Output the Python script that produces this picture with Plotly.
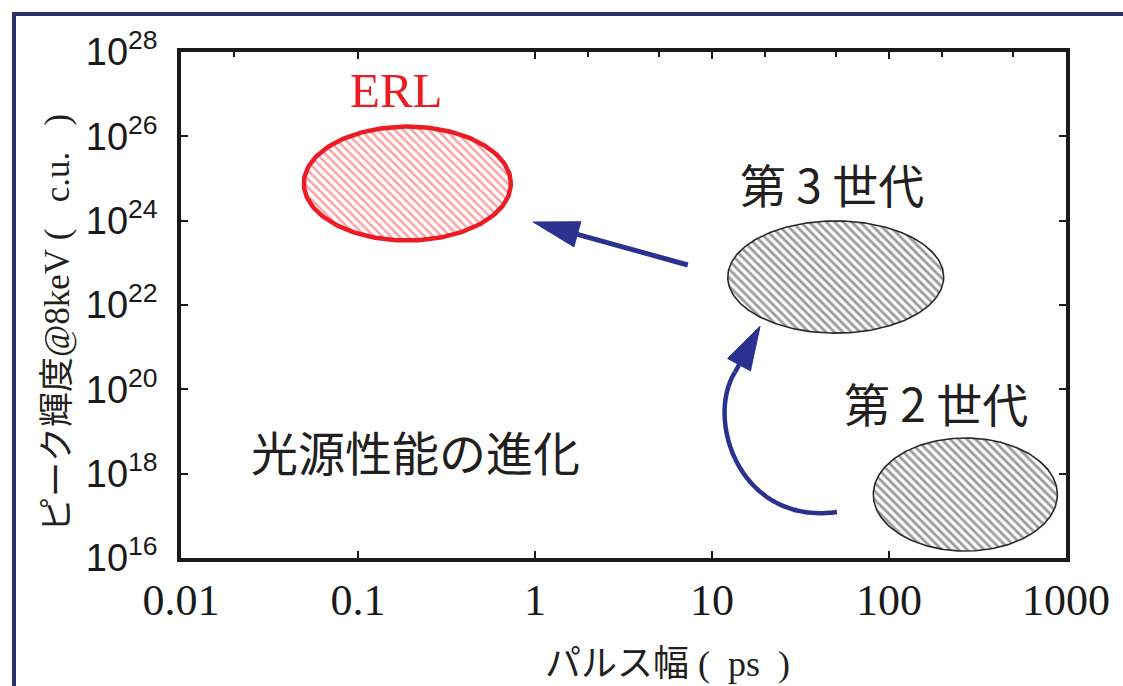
import numpy as np
import plotly.graph_objects as go

# ---------------- data ----------------
SOURCE_NAMES = ["ERL", "第 3 世代", "第 2 世代"]
PULSE_CENTER_PS = [0.19, 50.0, 270.0]          # ellipse centre, pulse width (ps)
PULSE_HALF_DECADES = [0.585, 0.61, 0.52]        # ellipse half width (decades)
BRIGHT_CENTER = [7.6e24, 4.6e22, 3.2e17]        # ellipse centre, peak brightness
BRIGHT_HALF_DECADES = [1.35, 1.33, 1.34]        # ellipse half height (decades)

LABEL_X = [0.166, 47.6, 184.0]                  # label positions (ps)
LABEL_Y = [1.2e27, 7.8e24, 5.0e19]              # label positions (brightness)
TITLE_TEXT = "光源性能の進化"
TITLE_POS = [0.21, 3.6e18]

# straight arrow 3rd gen -> ERL : tail, tip
ARROW1_X = [7.3, 0.975]
ARROW1_Y = [8.9e22, 9.3e23]
# curved arrow 2nd gen -> 3rd gen : bezier control points + tip
ARROW2_X = [50.8, 14.4, 9.12, 13.5]
ARROW2_Y = [1.23e17, 6.0e16, 1.86e19, 2.57e20]
ARROW2_TIP = [18.7, 3.16e21]

X_TICKS = [0.01, 0.1, 1, 10, 100, 1000]
X_TICK_TEXT = ["0.01", "0.1", "1", "10", "100", "1000"]
TOP_MINOR_TICKS = [0.02, 2, 5, 20, 50, 200, 500]
Y_TICKS = [1e16, 1e18, 1e20, 1e22, 1e24, 1e26, 1e28]
Y_TICK_TEXT = ["10<sup>16</sup>", "10<sup>18</sup>", "10<sup>20</sup>", "10<sup>22</sup>",
               "10<sup>24</sup>", "10<sup>26</sup>", "10<sup>28</sup>"]

# ---------------- layout constants ----------------
W, H = 1123, 686
ML, MR, MT, MB = 181, 57, 52, 128
XR = [-2, 3]
YR = [16, 28]
PX_X = (W - ML - MR) / (XR[1] - XR[0])
PX_Y = (H - MT - MB) / (YR[1] - YR[0])

NAVY = "#2b3190"
RED = "#ec1c24"
SERIF = "Liberation Serif"
SANS = "Liberation Sans"
CJK = "Noto Sans CJK JP"
NB = "\u00a0"


def to_px(xl, yl):
    return ML + (xl - XR[0]) * PX_X, MT + (YR[1] - yl) * PX_Y


def from_px(px, py):
    return XR[0] + (px - ML) / PX_X, YR[1] - (py - MT) / PX_Y


def head(tip_l, from_l, length=44, half=13):
    tx, ty = to_px(*tip_l)
    fx, fy = to_px(*from_l)
    d = np.array([tx - fx, ty - fy])
    u = d / np.linalg.norm(d)
    n = np.array([-u[1], u[0]])
    base = np.array([tx, ty]) - length * u
    pts = [np.array([tx, ty]), base + half * n, base - half * n, np.array([tx, ty])]
    ls = [from_px(*p) for p in pts]
    b = from_px(*base)
    return [10 ** p[0] for p in ls], [10 ** p[1] for p in ls], b


fig = go.Figure()

styles = [
    dict(line=RED, lw=4.5, fg="#f04a50", bg="#ffffff", size=6, sol=0.42),
    dict(line="#2a2a2a", lw=1.6, fg="#3a3a3a", bg="#fafafa", size=6, sol=0.45),
    dict(line="#2a2a2a", lw=1.6, fg="#3a3a3a", bg="#fafafa", size=6, sol=0.45),
]
t = np.linspace(0, 2 * np.pi, 241)
for i, name in enumerate(SOURCE_NAMES):
    cx = np.log10(PULSE_CENTER_PS[i])
    cy = np.log10(BRIGHT_CENTER[i])
    xs = 10 ** (cx + PULSE_HALF_DECADES[i] * np.cos(t))
    ys = 10 ** (cy + BRIGHT_HALF_DECADES[i] * np.sin(t))
    s = styles[i]
    fig.add_trace(go.Scatter(
        x=xs, y=ys, mode="lines", fill="toself", name=name,
        line=dict(color=s["line"], width=s["lw"]),
        fillcolor=s["bg"],
        fillpattern=dict(shape="\\", fgcolor=s["fg"], bgcolor=s["bg"],
                         size=s["size"], solidity=s["sol"]),
        hoverinfo="skip", showlegend=False))

# straight arrow
a1_tip = (np.log10(ARROW1_X[1]), np.log10(ARROW1_Y[1]))
a1_tail = (np.log10(ARROW1_X[0]), np.log10(ARROW1_Y[0]))
hx, hy, b1 = head(a1_tip, a1_tail, length=46, half=13)
fig.add_trace(go.Scatter(x=[ARROW1_X[0], 10 ** b1[0]], y=[ARROW1_Y[0], 10 ** b1[1]],
                         mode="lines", line=dict(color=NAVY, width=5),
                         hoverinfo="skip", showlegend=False))
fig.add_trace(go.Scatter(x=hx, y=hy, mode="lines", fill="toself", fillcolor=NAVY,
                         line=dict(color=NAVY, width=1), hoverinfo="skip", showlegend=False))

# curved arrow (cubic bezier in log space)
P = np.array([[np.log10(a), np.log10(b)] for a, b in zip(ARROW2_X, ARROW2_Y)])
tt = np.linspace(0, 1, 80)[:, None]
curve = ((1 - tt) ** 3) * P[0] + 3 * ((1 - tt) ** 2) * tt * P[1] + 3 * (1 - tt) * tt ** 2 * P[2] + tt ** 3 * P[3]
fig.add_trace(go.Scatter(x=10 ** curve[:, 0], y=10 ** curve[:, 1], mode="lines",
                         line=dict(color=NAVY, width=4.5, shape="spline"),
                         hoverinfo="skip", showlegend=False))
a2_tip = (np.log10(ARROW2_TIP[0]), np.log10(ARROW2_TIP[1]))
hx, hy, b2 = head(a2_tip, tuple(P[3]), length=44, half=13)
fig.add_trace(go.Scatter(x=[10 ** P[3][0], 10 ** b2[0]], y=[10 ** P[3][1], 10 ** b2[1]],
                         mode="lines", line=dict(color=NAVY, width=4.5),
                         hoverinfo="skip", showlegend=False))
fig.add_trace(go.Scatter(x=hx, y=hy, mode="lines", fill="toself", fillcolor=NAVY,
                         line=dict(color=NAVY, width=1), hoverinfo="skip", showlegend=False))

# invisible trace for the top minor-tick axis
fig.add_trace(go.Scatter(x=[1], y=[1e20], xaxis="x2", mode="markers",
                         marker=dict(opacity=0), hoverinfo="skip", showlegend=False))

# labels
label_fonts = [dict(family=SERIF, size=49, color=RED),
               dict(family=CJK, size=46, color="#231f20"),
               dict(family=CJK, size=46, color="#231f20")]
for i, name in enumerate(SOURCE_NAMES):
    fig.add_annotation(x=np.log10(LABEL_X[i]), y=np.log10(LABEL_Y[i]), xref="x", yref="y",
                       xanchor="center", yanchor="middle",
                       text=name, showarrow=False, font=label_fonts[i])
fig.add_annotation(x=np.log10(TITLE_POS[0]), y=np.log10(TITLE_POS[1]), xref="x", yref="y",
                   xanchor="center", yanchor="middle",
                   text=TITLE_TEXT, showarrow=False,
                   font=dict(family=CJK, size=47, color="#231f20"))

# axis titles
fig.add_annotation(xref="paper", yref="paper", x=(53 - ML) / (W - ML - MR),
                   y=(H - MB - 323) / (H - MT - MB), textangle=-90, showarrow=False,
                   xanchor="center", yanchor="middle",
                   text=(f'<span style="font-family:{CJK}">ピーク輝度</span>'
                         f'<span style="font-family:{SERIF}">@8keV{NB}({NB*3}c.u.{NB*3})</span>'),
                   font=dict(family=CJK, size=35, color="#231f20"))
fig.add_annotation(xref="paper", yref="paper", x=(667 - ML) / (W - ML - MR),
                   y=-(660 - (H - MB)) / (H - MT - MB), showarrow=False,
                   xanchor="center", yanchor="middle",
                   text=(f'<span style="font-family:{CJK}">パルス幅</span>'
                         f'<span style="font-family:{SERIF}">{NB}({NB*2}ps{NB*2})</span>'),
                   font=dict(family=CJK, size=36, color="#231f20"))

# navy frame and small red mark on the right axis
fig.add_shape(type="rect", xref="paper", yref="paper",
              x0=(14 - ML) / (W - ML - MR), x1=(W + 40 - ML) / (W - ML - MR),
              y0=-(H + 40 - (H - MB)) / (H - MT - MB), y1=1 + (MT - 14) / (H - MT - MB),
              line=dict(color="#2e3268", width=4), layer="below")
fig.add_shape(type="line", xref="paper", yref="y", x0=1.0, x1=1.008, y0=20, y1=20,
              line=dict(color=RED, width=1.5))

fig.update_layout(
    width=W, height=H,
    margin=dict(l=ML, r=MR, t=MT, b=MB, autoexpand=False),
    paper_bgcolor="white", plot_bgcolor="white",
    showlegend=False,
    xaxis=dict(type="log", range=XR, tickvals=X_TICKS, ticktext=X_TICK_TEXT,
               ticks="inside", ticklen=7, tickwidth=2, tickcolor="#1a1a1a",
               showline=True, linecolor="#1a1a1a", linewidth=3.5, mirror="ticks",
               showgrid=False, zeroline=False, ticklabelstandoff=0,
               tickfont=dict(family=SERIF, size=44, color="#1a1a1a")),
    xaxis2=dict(type="log", range=XR, overlaying="x", side="top", tickvals=TOP_MINOR_TICKS,
                ticktext=[""] * len(TOP_MINOR_TICKS),
                ticks="inside", ticklen=5, tickwidth=2, tickcolor="#1a1a1a",
                showticklabels=False, showline=False, showgrid=False, zeroline=False),
    yaxis=dict(type="log", range=YR, tickvals=Y_TICKS, ticktext=Y_TICK_TEXT,
               ticks="inside", ticklen=7, tickwidth=2, tickcolor="#1a1a1a",
               showline=True, linecolor="#1a1a1a", linewidth=3.5, mirror="ticks",
               showgrid=False, zeroline=False, ticklabelstandoff=12,
               tickfont=dict(family=SANS, size=38, color="#1a1a1a")),
)

fig.write_html("out.html", config={"displayModeBar": False},
               post_script="document.body.style.margin='0';document.body.style.overflow='hidden';")
